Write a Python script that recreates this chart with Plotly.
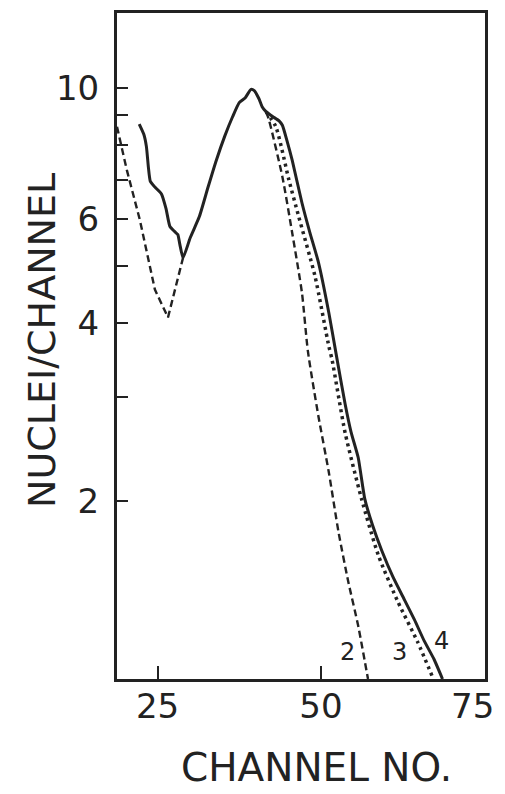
import math
import plotly.graph_objects as go

# Curve 4 (solid): full spectrum, left wing + peak + falling edge
ch4 = [22.2, 22.9, 23.3, 23.6, 23.9, 24.6, 25.6, 26.3, 26.9, 27.6, 28.1, 28.4,
       28.9, 30.0, 31.4, 32.7, 34.0, 35.3, 36.5, 37.5, 38.4, 39.3, 39.8,
       40.5, 41.0, 41.6, 42.6, 43.6, 44.1, 44.8, 45.6, 47.1, 48.3, 49.6,
       51.2, 52.3, 53.7, 54.6, 55.7, 56.7, 57.9, 59.3, 61.0, 62.8, 64.3,
       65.8, 67.3, 68.6]
n4 = [8.69, 8.35, 7.96, 7.35, 6.95, 6.80, 6.62, 6.25, 5.83, 5.72, 5.65, 5.45,
      5.16, 5.58, 6.06, 6.78, 7.55, 8.30, 8.95, 9.45, 9.62, 9.95, 9.90,
      9.60, 9.30, 9.12, 8.95, 8.80, 8.65, 8.15, 7.55, 6.39, 5.70, 5.08,
      4.17, 3.56, 2.92, 2.62, 2.37, 2.02, 1.82, 1.65, 1.49, 1.36, 1.26,
      1.16, 1.08, 1.0]

# Curve 3 (dotted): shares the peak, falls slightly earlier
ch3 = [41.6, 43.1, 45.1, 46.6, 49.1, 51.2, 51.7, 53.7, 56.2, 58.8, 61.8,
       64.8, 67.2]
n3 = [9.12, 8.60, 6.99, 6.06, 4.80, 3.66, 3.47, 2.61, 2.02, 1.617, 1.349,
      1.155, 1.0]

# Curve 2 (dashed): its own left wing, joins at the dip, then falls earliest
ch2_left = [18.8, 20.3, 22.3, 24.6, 26.6, 28.9]
n2_left = [8.60, 7.27, 5.98, 4.56, 4.09, 5.16]
ch2_right = [41.6, 42.05, 44.1, 45.6, 47.1, 48.0, 49.6, 51.2, 52.7, 54.2,
             55.7, 57.2]
n2_right = [9.12, 8.83, 7.08, 5.69, 4.50, 3.59, 2.79, 2.24, 1.77, 1.458,
            1.23, 1.0]

# Curve labels
label_text = ["2", "3", "4"]
label_ch = [54.0, 62.0, 68.5]
label_n = [1.11, 1.11, 1.16]

y_tickvals = [2, 3, 4, 5, 6, 7, 8, 9, 10]
y_ticktext = ["2", "", "4", "", "6", "", "", "", "10"]
x_tickvals = [25, 50]
x_ticktext = ["25", "50"]
x_end_value = 75  # sits on the right frame; its label is right-aligned there

FONT = "DejaVu Sans"
INK = "#222222"

fig = go.Figure()
fig.add_trace(go.Scatter(x=ch2_left, y=n2_left, mode="lines",
                         line=dict(color=INK, width=2.4, dash="7px,4px")))
fig.add_trace(go.Scatter(x=ch2_right, y=n2_right, mode="lines",
                         line=dict(color=INK, width=2.4, dash="7px,4px",
                                   shape="spline", smoothing=0.6)))
fig.add_trace(go.Scatter(x=ch3, y=n3, mode="lines",
                         line=dict(color=INK, width=3.5, dash="3px,4px",
                                   shape="spline", smoothing=0.6)))
fig.add_trace(go.Scatter(x=ch4, y=n4, mode="lines",
                         line=dict(color=INK, width=3, shape="spline",
                                   smoothing=0.5)))

# log axis: annotation y positions are given in log10 units
for t, xv, yv in zip(label_text, label_ch, label_n):
    fig.add_annotation(x=xv, y=math.log10(yv), xref="x", yref="y", text=t,
                       showarrow=False,
                       font=dict(family=FONT, size=24, color=INK))

fig.add_annotation(x=x_end_value, xref="x", y=-0.0405, yref="paper",
                   xanchor="right", yanchor="middle", xshift=12,
                   text=str(x_end_value), showarrow=False,
                   font=dict(family=FONT, size=34, color=INK))

fig.add_annotation(xref="paper", yref="paper", x=-0.204, y=0.509,
                   xanchor="center", yanchor="middle",
                   text="NUCLEI/CHANNEL", textangle=-90, showarrow=False,
                   font=dict(family=FONT, size=38, color=INK))
fig.add_annotation(xref="paper", yref="paper", x=0.543, y=-0.1336,
                   xanchor="center", yanchor="middle",
                   text="CHANNEL NO.", showarrow=False,
                   font=dict(family=FONT, size=39, color=INK))

fig.update_xaxes(range=[18.8, 75.1], tickvals=x_tickvals, ticktext=x_ticktext,
                 ticks="inside", ticklen=13, tickwidth=2, tickcolor=INK,
                 showline=True, linecolor=INK, linewidth=3, mirror=True,
                 showgrid=False, zeroline=False, automargin=False,
                 ticklabelstandoff=-5,
                 tickfont=dict(family=FONT, size=34, color=INK))
fig.update_yaxes(type="log", range=[0, 1.127], tickvals=y_tickvals,
                 ticktext=y_ticktext, ticks="inside", ticklen=11, tickwidth=2,
                 tickcolor=INK, showline=True, linecolor=INK, linewidth=3,
                 mirror=True, showgrid=False, zeroline=False,
                 ticklabelstandoff=8, automargin=False,
                 tickfont=dict(family=FONT, size=34, color=INK))

fig.update_layout(width=505, height=794, showlegend=False,
                  margin=dict(l=117, r=20, t=13, b=115),
                  plot_bgcolor="white", paper_bgcolor="white")

fig.write_html("out.html")
